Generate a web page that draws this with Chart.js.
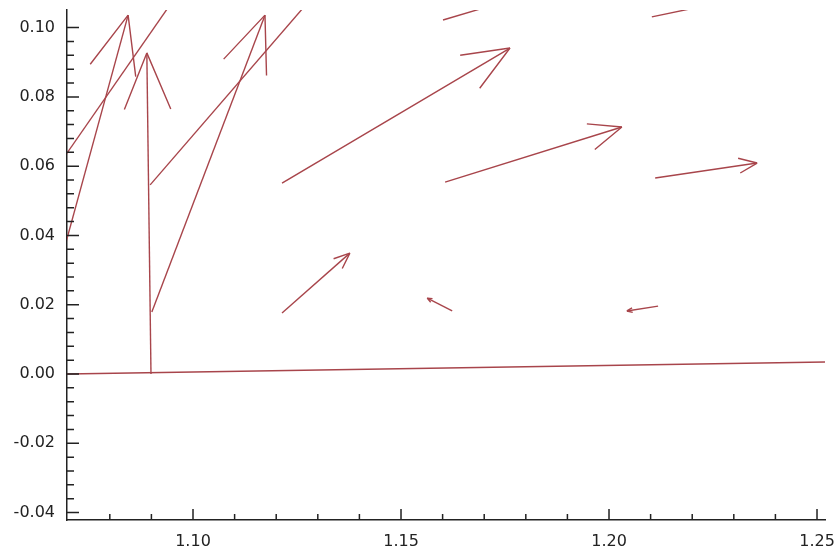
<!DOCTYPE html>
<html>
<head>
<meta charset="utf-8">
<script src="https://cdn.jsdelivr.net/npm/chart.js@4.4.1/dist/chart.umd.min.js"></script>
<style>
  body { margin: 0; background: #fff; }
  canvas { display: block; }
</style>
</head>
<body>
<canvas id="myChart" width="837" height="557"></canvas>
<script>
// vector field: each arrow goes from (tailX, tailY) to (tipX, tipY)
const tailX = [1.0600, 1.0899, 1.0637, 1.0901, 1.0632, 1.0897, 1.1214, 1.1214, 1.1623, 1.2118, 1.1606, 1.2111, 1.1601, 1.2103];
const tailY = [-0.0002, 0.0000, 0.0127, 0.0179, 0.0525, 0.0546, 0.0551, 0.0176, 0.0182, 0.0196, 0.0554, 0.0566, 0.1022, 0.1031];
const tipX = [1.2700, 1.0889, 1.0844, 1.1173, 1.1053, 1.1406, 1.1762, 1.1377, 1.1563, 1.2043, 1.2031, 1.2356, 1.2250, 1.2760];
const tipY = [0.0038, 0.0927, 0.1036, 0.1036, 0.1253, 0.1253, 0.0941, 0.0349, 0.0219, 0.0182, 0.0713, 0.0609, 0.1253, 0.1195];

// tick labels (major ticks)
const xTickLabels = ["1.10", "1.15", "1.20", "1.25"];
const yTickLabels = ["-0.04", "-0.02", "0.00", "0.02", "0.04", "0.06", "0.08", "0.10"];

// minor ticks every 0.01 on x and 0.004 on y
const xTicks = [];
for (let i = 108; i <= 125; i++) xTicks.push(i / 100);
const yTicks = [];
for (let i = -10; i <= 25; i++) yTicks.push(Math.round(i * 4) / 1000);

const arrowColor = "#a8454b";
const axisColor = "#222";
const font = { family: "DejaVu Sans", size: 16 };

function labelFor(list, v) {
	const hit = list.find((l) => Math.abs(parseFloat(l) - v) < 1e-9);
	return hit ? hit : "";
}

// arrow heads, drawn in pixel space from the scales
const arrowHeads = {
	id: "arrowHeads",
	afterDatasetsDraw(chart) {
		const { ctx, chartArea, scales } = chart;
		const x = scales.x, y = scales.y;
		ctx.save();
		ctx.beginPath();
		ctx.rect(chartArea.left, chartArea.top, chartArea.right - chartArea.left, chartArea.bottom - chartArea.top);
		ctx.clip();
		ctx.strokeStyle = arrowColor;
		ctx.lineWidth = 1.4;
		for (let i = 0; i < tipX.length; i++) {
			const x0 = x.getPixelForValue(tailX[i]), y0 = y.getPixelForValue(tailY[i]);
			const x1 = x.getPixelForValue(tipX[i]), y1 = y.getPixelForValue(tipY[i]);
			const len = Math.hypot(x1 - x0, y1 - y0);
			const head = Math.min(len * 0.19, 64);
			const ang = Math.atan2(y0 - y1, x0 - x1);
			ctx.beginPath();
			[ang - 0.39, ang + 0.39].forEach((a) => {
				ctx.moveTo(x1, y1);
				ctx.lineTo(x1 + head * Math.cos(a), y1 + head * Math.sin(a));
			});
			ctx.stroke();
		}
		ctx.restore();
	},
};

// tick marks pointing into the plot
const innerTicks = {
	id: "innerTicks",
	afterDraw(chart) {
		const { ctx, chartArea, scales } = chart;
		ctx.save();
		ctx.strokeStyle = axisColor;
		ctx.lineWidth = 1.5;
		ctx.beginPath();
		scales.x.ticks.forEach((t) => {
			const px = scales.x.getPixelForValue(t.value);
			const len = t.label ? 11 : 6;
			ctx.moveTo(px, chartArea.bottom);
			ctx.lineTo(px, chartArea.bottom - len);
		});
		scales.y.ticks.forEach((t) => {
			const py = scales.y.getPixelForValue(t.value);
			const len = t.label ? 12 : 7;
			ctx.moveTo(chartArea.left, py);
			ctx.lineTo(chartArea.left + len, py);
		});
		ctx.stroke();
		ctx.restore();
	},
};

new Chart("myChart", {
	type: "scatter",
	data: {
		datasets: tailX.map((_, i) => ({
			data: [
				{ x: tailX[i], y: tailY[i] },
				{ x: tipX[i], y: tipY[i] },
			],
			showLine: true,
			borderColor: arrowColor,
			borderWidth: 1.4,
			pointRadius: 0,
			clip: 0,
		})),
	},
	options: {
		responsive: false,
		animation: false,
		layout: { padding: { top: 10, right: 12, bottom: 0, left: 0 } },
		plugins: {
			legend: { display: false },
			tooltip: { enabled: false },
		},
		scales: {
			x: {
				type: "linear",
				min: 1.06971,
				max: 1.25192,
				afterBuildTicks: (s) => {
					s.ticks = xTicks.map((v) => ({ value: v }));
				},
				afterFit: (s) => {
					s.height = 37;
					s.paddingLeft = 0;
					s.paddingRight = 0;
				},
				ticks: {
					autoSkip: false,
					maxRotation: 0,
					padding: 12,
					color: axisColor,
					font: font,
					callback: (v) => labelFor(xTickLabels, v),
				},
				grid: { display: false, drawTicks: false },
				border: { display: true, color: axisColor, width: 1.5 },
			},
			y: {
				type: "linear",
				min: -0.04215,
				max: 0.10508,
				afterBuildTicks: (s) => {
					s.ticks = yTicks.map((v) => ({ value: v }));
				},
				afterFit: (s) => {
					s.width = 67;
					s.paddingTop = 0;
					s.paddingBottom = 0;
				},
				ticks: {
					autoSkip: false,
					padding: 12,
					color: axisColor,
					font: font,
					callback: (v) => labelFor(yTickLabels, v),
				},
				grid: { display: false, drawTicks: false },
				border: { display: true, color: axisColor, width: 1.5 },
			},
		},
	},
	plugins: [arrowHeads, innerTicks],
});
</script>
</body>
</html>
